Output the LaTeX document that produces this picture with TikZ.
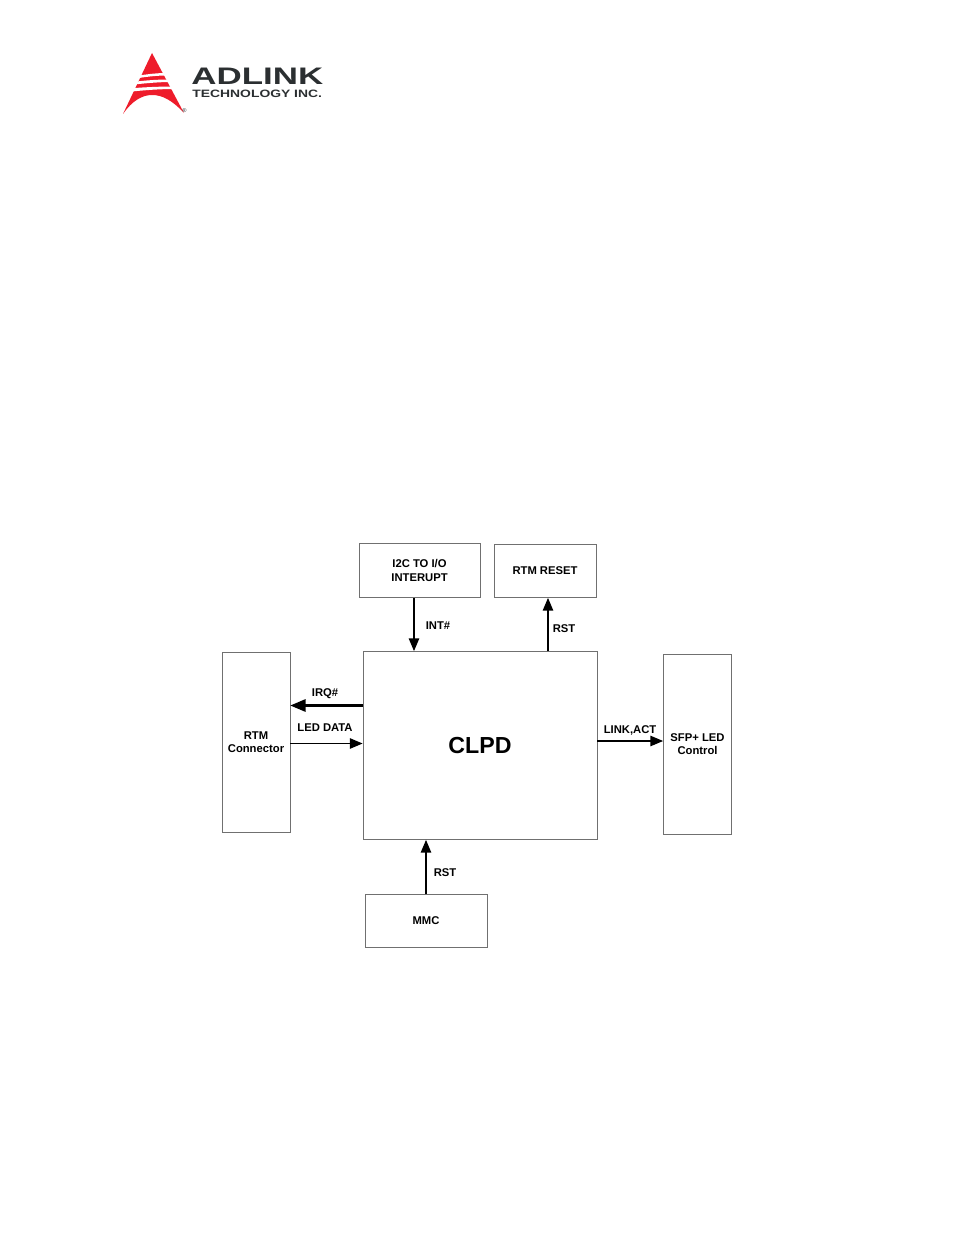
\documentclass[tikz,border=0pt]{standalone}
\usepackage{fontspec}
\setmainfont{Liberation Sans}
\usepackage{xcolor}
\usetikzlibrary{calc,shapes,positioning}
\usetikzlibrary{arrows}
\definecolor{logored}{HTML}{EE1C2B}
\definecolor{logodark}{HTML}{2B2F31}
\definecolor{boxgray}{HTML}{707070}
\begin{document}
\begin{tikzpicture}[x=0.025cm,y=-0.025cm]
      \tikzstyle{bnode} = [draw=boxgray, line width=0.6pt, rectangle, inner sep = 0pt, align=center, font=\fontsize{8}{9.4}\selectfont\bfseries]
      \tikzstyle{lnode} = [inner sep = 0pt, font=\fontsize{8}{9.4}\selectfont\bfseries]
      \tikzstyle{sig} = [-triangle 45, line width=1.1pt]
      \useasboundingbox (0,0) rectangle (954,1235);

      % logo
      \fill[logored] (152,53) -- (184,113) .. controls (172,100) and (162,95) .. (152,95) .. controls (142,95) and (132,101) .. (123,114) -- cycle;
      \fill[white] (136,76) .. controls (148,74) and (158,73) .. (166,73) -- (167,75.5) .. controls (158,75.5) and (148,76.5) .. (139,78) -- cycle;
      \fill[white] (133,82) .. controls (148,80) and (160,79.5) .. (170,79.5) -- (171,82) .. controls (160,82) and (148,83) .. (134,84.5) -- cycle;
      \fill[white] (129,88.5) .. controls (146,87) and (162,86.5) .. (174,86.5) -- (175,89) .. controls (160,89) and (146,90) .. (127,92) -- cycle;
      \node[inner sep=0pt, anchor=west, text=logodark, xscale=1.46, font=\fontsize{17}{17}\selectfont\bfseries] (adlink) at (191,76.5) {ADLINK};
      \node[inner sep=0pt, anchor=west, text=logodark, xscale=1.3, font=\fontsize{7.6}{8}\selectfont\bfseries] (techinc) at (192,94) {TECHNOLOGY INC.};
      \node[inner sep=0pt, text=logodark, font=\fontsize{4}{4}\selectfont] (regmark) at (184.5,110.5) {®};

      % blocks
      \node[bnode, minimum width=3.025cm, minimum height=1.35cm] (i2c) at (419.5,570.5) {I2C TO I/O\\INTERUPT};
      \node[bnode, minimum width=2.55cm, minimum height=1.325cm] (reset) at (545,571) {RTM RESET};
      \node[bnode, minimum width=5.85cm, minimum height=4.7cm, font=\fontsize{16.5}{18}\selectfont\bfseries] (clpd) at (480,745.5) {CLPD};
      \node[bnode, minimum width=1.7cm, minimum height=4.5cm] (rtm) at (256,742.5) {RTM\\Connector};
      \node[bnode, minimum width=1.7cm, minimum height=4.5cm] (sfp) at (697.5,744.5) {SFP+ LED\\Control};
      \node[bnode, minimum width=3.05cm, minimum height=1.325cm] (mmc) at (426,921) {MMC};

      % connections
      \draw[sig] (i2c.south -| 414,0) to (clpd.north -| 414,0);
      \draw[sig] (clpd.north -| 548,0) to (reset.south -| 548,0);
      \draw[sig, line width=1.5pt] (clpd.west |- 0,705.5) to (rtm.east |- 0,705.5);
      \draw[sig] (rtm.east |- 0,743.5) to (clpd.west |- 0,743.5);
      \draw[sig] (clpd.east |- 0,741) to (sfp.west |- 0,741);
      \draw[sig] (mmc.north) to (clpd.south -| mmc.north);

      % labels
      \node[lnode] (intlbl) at (438,625.5) {INT\#};
      \node[lnode] (rstup) at (564,628.5) {RST};
      \node[lnode] (irqlbl) at (325,693.5) {IRQ\#};
      \node[lnode] (ledlbl) at (325,727.5) {LED DATA};
      \node[lnode] (linklbl) at (630,730) {LINK,ACT};
      \node[lnode] (rstdown) at (445,872.5) {RST};
    \end{tikzpicture}
\end{document}
